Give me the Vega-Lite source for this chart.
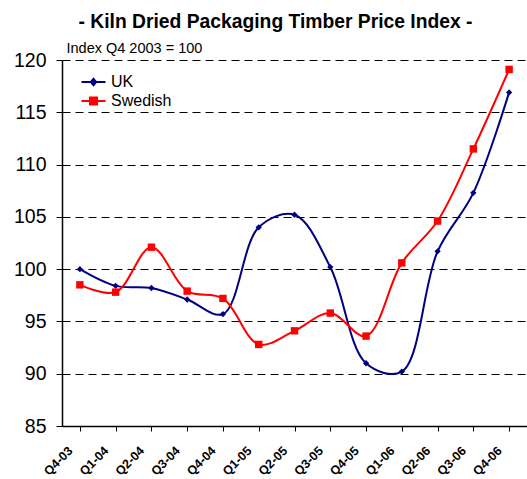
{
  "$schema": "https://vega.github.io/schema/vega-lite/v6.json",
  "autosize": "none",
  "width": 465,
  "height": 366,
  "padding": {"left": 62, "top": 60, "right": 0, "bottom": 53},
  "background": "white",
  "title": {
    "text": "- Kiln Dried Packaging Timber Price Index -",
    "font": "Liberation Sans",
    "fontSize": 19.3,
    "fontWeight": "bold",
    "color": "black",
    "anchor": "middle",
    "frame": "group",
    "dx": -19,
    "offset": 8
  },
  "config": {
    "view": {"stroke": null},
    "font": "Liberation Sans"
  },
  "data": {
    "values": [
      {"q": "Q4-03", "series": "UK", "v": 100.0},
      {"q": "Q1-04", "series": "UK", "v": 98.4},
      {"q": "Q2-04", "series": "UK", "v": 98.2},
      {"q": "Q3-04", "series": "UK", "v": 97.1},
      {"q": "Q4-04", "series": "UK", "v": 95.7},
      {"q": "Q1-05", "series": "UK", "v": 104.0},
      {"q": "Q2-05", "series": "UK", "v": 105.2},
      {"q": "Q3-05", "series": "UK", "v": 100.2},
      {"q": "Q4-05", "series": "UK", "v": 91.0},
      {"q": "Q1-06", "series": "UK", "v": 90.2},
      {"q": "Q2-06", "series": "UK", "v": 101.7},
      {"q": "Q3-06", "series": "UK", "v": 107.3},
      {"q": "Q4-06", "series": "UK", "v": 116.9},
      {"q": "Q4-03", "series": "Swedish", "v": 98.5},
      {"q": "Q1-04", "series": "Swedish", "v": 97.8},
      {"q": "Q2-04", "series": "Swedish", "v": 102.1},
      {"q": "Q3-04", "series": "Swedish", "v": 97.9},
      {"q": "Q4-04", "series": "Swedish", "v": 97.2},
      {"q": "Q1-05", "series": "Swedish", "v": 92.8},
      {"q": "Q2-05", "series": "Swedish", "v": 94.1},
      {"q": "Q3-05", "series": "Swedish", "v": 95.8},
      {"q": "Q4-05", "series": "Swedish", "v": 93.6},
      {"q": "Q1-06", "series": "Swedish", "v": 100.6},
      {"q": "Q2-06", "series": "Swedish", "v": 104.6},
      {"q": "Q3-06", "series": "Swedish", "v": 111.5},
      {"q": "Q4-06", "series": "Swedish", "v": 119.1}
    ]
  },
  "encoding": {
    "x": {
      "field": "q",
      "type": "ordinal",
      "sort": null,
      "scale": {"paddingInner": 0, "paddingOuter": 0},
      "axis": {
        "title": null,
        "bandPosition": 0,
        "labelOffset": -14,
        "labelAngle": -45,
        "labelAlign": "right",
        "labelBaseline": "top",
        "labelFont": "Liberation Sans",
        "labelFontSize": 12.5,
        "labelFontWeight": "bold",
        "labelColor": "black",
        "labelPadding": 13,
        "labelOverlap": false,
        "labelBound": false,
        "domainColor": "black",
        "domainWidth": 1.5,
        "tickColor": "black",
        "tickSize": 5,
        "tickWidth": 1,
        "grid": false
      }
    },
    "y": {
      "field": "v",
      "type": "quantitative",
      "scale": {"domain": [85, 120], "nice": false, "zero": false},
      "axis": {
        "values": [85, 90, 95, 100, 105, 110, 115, 120],
        "title": "Index Q4 2003 = 100",
        "titleAngle": 0,
        "titleAlign": "left",
        "titleBaseline": "alphabetic",
        "titleX": 4,
        "titleY": -8,
        "titleFont": "Liberation Sans",
        "titleFontSize": 14.5,
        "titleFontWeight": "normal",
        "titleColor": "black",
        "labelFont": "Liberation Sans",
        "labelFontSize": 19.5,
        "labelColor": "black",
        "labelPadding": 10,
        "domainColor": "black",
        "domainWidth": 1.5,
        "tickColor": "black",
        "tickSize": 6,
        "grid": true,
        "gridColor": "black",
        "gridDash": [8, 5],
        "gridWidth": 1
      }
    },
    "color": {
      "field": "series",
      "type": "nominal",
      "sort": ["UK", "Swedish"],
      "scale": {"domain": ["UK", "Swedish"], "range": ["#000080", "#FF0000"]},
      "legend": {
        "title": null,
        "orient": "none",
        "legendX": 22.5,
        "legendY": 13,
        "labelFont": "Liberation Sans",
        "labelFontSize": 16,
        "labelColor": "black",
        "labelOffset": 8.5,
        "symbolSize": 256,
        "symbolStrokeWidth": 2,
        "rowPadding": 2,
        "encode": {
          "symbols": {
            "update": {
              "shape": {"signal": "datum.value === 'UK' ? 'M-1.5,0H1.5M0,-0.4L0.34,0L0,0.4L-0.34,0Z' : 'M-1.5,0H1.5M-0.44,-0.44H0.44V0.44H-0.44Z'"},
              "fill": {"signal": "datum.value === 'UK' ? '#000080' : '#FF0000'"},
              "stroke": {"signal": "datum.value === 'UK' ? '#000080' : '#FF0000'"},
              "strokeWidth": {"value": 2},
              "opacity": {"value": 1}
            }
          }
        }
      }
    }
  },
  "layer": [
    {
      "mark": {"type": "line", "interpolate": "catmull-rom", "strokeWidth": 2}
    },
    {
      "transform": [{"filter": "datum.series === 'UK'"}],
      "mark": {"type": "point", "filled": true, "opacity": 1, "shape": "diamond", "size": 40}
    },
    {
      "transform": [{"filter": "datum.series === 'Swedish'"}],
      "mark": {"type": "point", "filled": true, "opacity": 1, "shape": "square", "size": 55}
    }
  ]
}
